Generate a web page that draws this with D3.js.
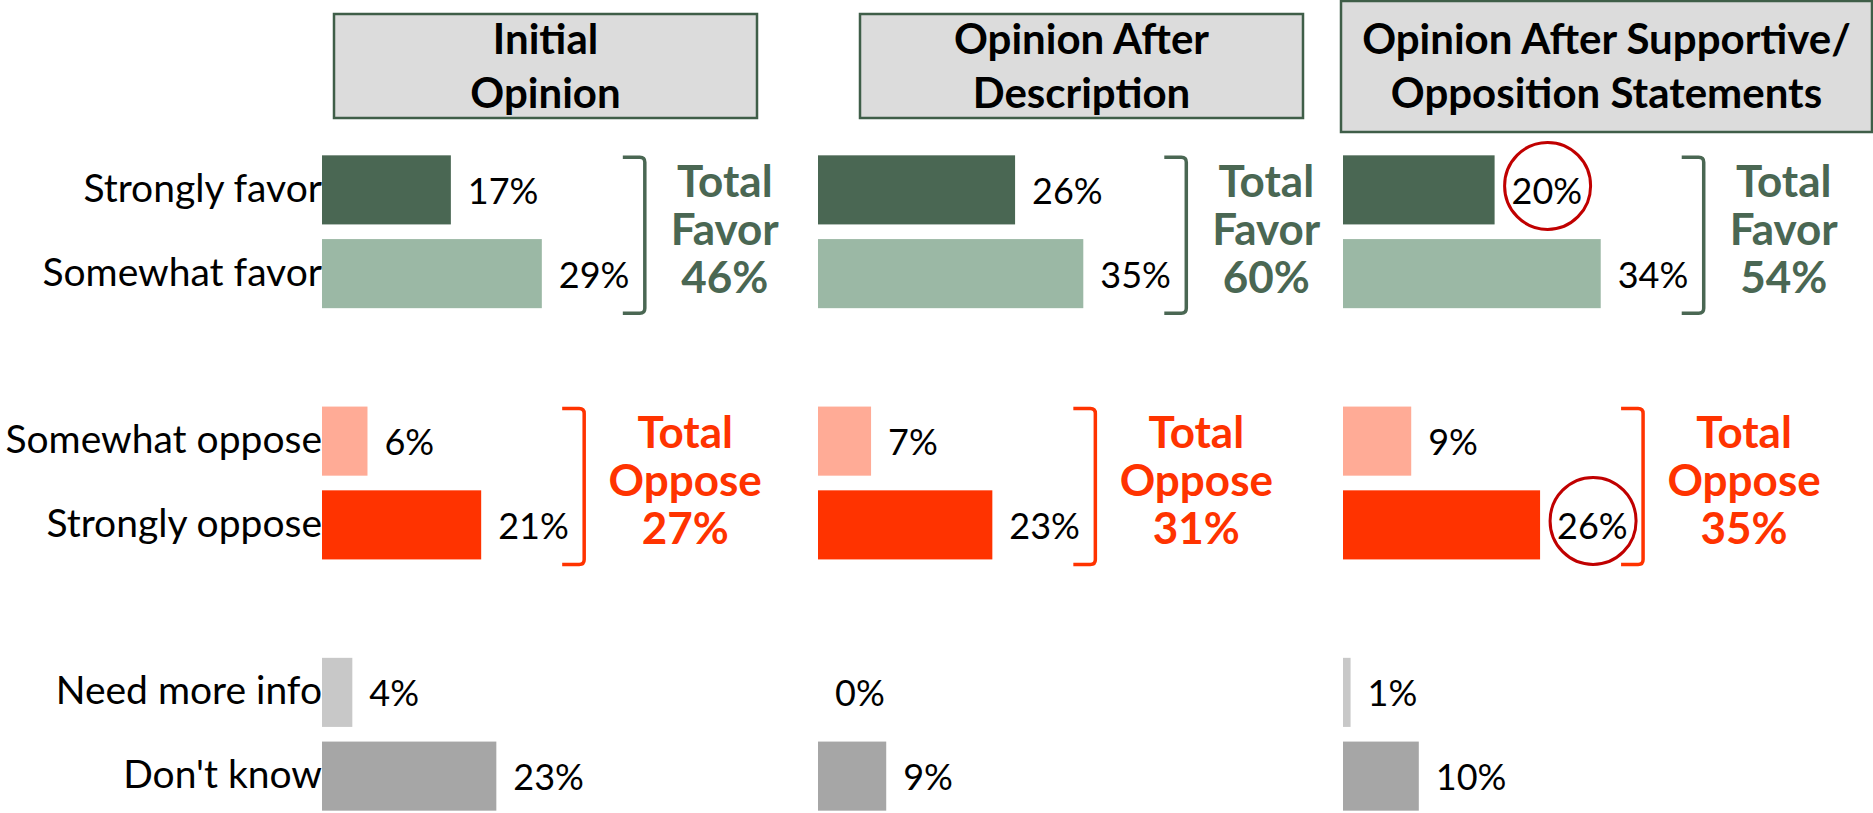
<!DOCTYPE html>
<html>
<head>
<meta charset="utf-8">
<script src="https://cdn.jsdelivr.net/npm/d3@7"></script>
<style>
  body { margin: 0; background: #fff; }
  svg { display: block; font-family: Lato, "Open Sans", sans-serif; }
</style>
</head>
<body>
<div id="d3-container"></div>
<script>
/**
 * DATA
 * */
const headerLines = [
  ["Initial", "Opinion"],
  ["Opinion After", "Description"],
  ["Opinion After Supportive/", "Opposition Statements"]
];
const categories = ["Strongly favor", "Somewhat favor", "Somewhat oppose", "Strongly oppose", "Need more info", "Don't know"];
const initialValues = [17, 29, 6, 21, 4, 23];
const descriptionValues = [26, 35, 7, 23, 0, 9];
const statementValues = [20, 34, 9, 26, 1, 10];
const totalFavor = [46, 60, 54];
const totalOppose = [27, 31, 35];
// labels circled in red, per panel
const circled = [[], [], ["Strongly favor", "Strongly oppose"]];

/**
 * LAYOUT
 * */
const width = 1873, height = 813;
const panelX = [322, 818, 1343];
const headerBox = [
  { x: 334, y: 14, w: 423, h: 104 },
  { x: 860, y: 14, w: 443, h: 104 },
  { x: 1341, y: 1, w: 531, h: 131 }
];
const barColors = ["#4a6753", "#9bb8a5", "#ffab96", "#ff3300", "#c8c8c8", "#a6a6a6"];
const green = "#4a6753", orange = "#ff3300";
const valueGap = 17, labelW = 71, bracketGap = 15;

const series = [initialValues, descriptionValues, statementValues];

const svg = d3.select("#d3-container")
  .append("svg")
  .attr("width", width)
  .attr("height", height)
  .attr("viewBox", `0 0 ${width} ${height}`);

// rows, with two empty slots separating the groups
const rowKeys = [categories[0], categories[1], "gap1", categories[2], categories[3], "gap2", categories[4], categories[5]];
const y = d3.scaleBand()
  .domain(rowKeys)
  .range([148, 818])
  .paddingInner(0.175)
  .paddingOuter(0.0875);

const x = d3.scaleLinear().domain([0, 100]).range([0, 758]);
const color = d3.scaleOrdinal().domain(categories).range(barColors);

// header boxes
const headers = svg.selectAll("g.header")
  .data(headerLines)
  .join("g")
  .attr("class", "header");
headers.append("rect")
  .attr("x", (d, i) => headerBox[i].x)
  .attr("y", (d, i) => headerBox[i].y)
  .attr("width", (d, i) => headerBox[i].w)
  .attr("height", (d, i) => headerBox[i].h)
  .attr("fill", "#dcdcdc")
  .attr("stroke", "#3f5e48")
  .attr("stroke-width", 2.5);
headers.each(function(lines, i) {
  d3.select(this).selectAll("text")
    .data(lines)
    .join("text")
    .attr("x", headerBox[i].x + headerBox[i].w / 2)
    .attr("y", (d, j) => 54 + j * 54)
    .attr("text-anchor", "middle")
    .attr("font-size", 42)
    .attr("font-weight", "bold")
    .attr("fill", "#000")
    .text(d => d);
});

// category labels on the left
svg.selectAll("text.cat")
  .data(categories)
  .join("text")
  .attr("class", "cat")
  .attr("x", panelX[0])
  .attr("y", d => y(d) + y.bandwidth() / 2 + 12)
  .attr("text-anchor", "end")
  .attr("font-size", 39)
  .attr("fill", "#000")
  .text(d => d);

// panels
series.forEach((values, p) => {
  const g = svg.append("g").attr("transform", `translate(${panelX[p]},0)`);
  const rows = categories.map((c, i) => ({ cat: c, value: values[i] }));

  g.selectAll("rect")
    .data(rows)
    .join("rect")
    .attr("x", 0)
    .attr("y", d => y(d.cat))
    .attr("width", d => x(d.value))
    .attr("height", y.bandwidth())
    .attr("fill", d => color(d.cat));

  g.selectAll("text.val")
    .data(rows)
    .join("text")
    .attr("class", "val")
    .attr("x", d => x(d.value) + valueGap)
    .attr("y", d => y(d.cat) + y.bandwidth() / 2 + 14)
    .attr("font-size", 36)
    .attr("fill", "#000")
    .text(d => d.value + "%");

  // red circles round highlighted labels
  g.selectAll("ellipse")
    .data(rows.filter(d => circled[p].includes(d.cat)))
    .join("ellipse")
    .attr("cx", d => x(d.value) + valueGap + 36)
    .attr("cy", d => y(d.cat) + y.bandwidth() / 2 - 4)
    .attr("rx", 43)
    .attr("ry", 43.5)
    .attr("fill", "none")
    .attr("stroke", "#c00000")
    .attr("stroke-width", 3);

  // brackets and totals
  const groups = [
    { cats: [categories[0], categories[1]], total: totalFavor[p], word: "Favor", col: green, shift: 80 },
    { cats: [categories[2], categories[3]], total: totalOppose[p], word: "Oppose", col: orange, shift: 101 }
  ];
  groups.forEach(grp => {
    const maxV = d3.max(grp.cats, c => values[categories.indexOf(c)]);
    const bx = x(maxV) + valueGap + labelW + bracketGap;
    const top = y(grp.cats[0]) + 2;
    const bottom = y(grp.cats[1]) + y.bandwidth() + 5;
    const path = d3.path();
    path.moveTo(bx - 22, top);
    path.lineTo(bx - 5, top);
    path.quadraticCurveTo(bx, top, bx, top + 5);
    path.lineTo(bx, bottom - 5);
    path.quadraticCurveTo(bx, bottom, bx - 5, bottom);
    path.lineTo(bx - 22, bottom);
    g.append("path")
      .attr("d", path.toString())
      .attr("fill", "none")
      .attr("stroke", grp.col)
      .attr("stroke-width", 3.5);

    const mid = (y(grp.cats[0]) + y(grp.cats[1]) + y.bandwidth()) / 2 + 13;
    g.selectAll(null)
      .data(["Total", grp.word, grp.total + "%"])
      .join("text")
      .attr("x", bx + grp.shift)
      .attr("y", (d, j) => mid + (j - 1) * 48)
      .attr("text-anchor", "middle")
      .attr("font-size", 44)
      .attr("font-weight", "bold")
      .attr("fill", grp.col)
      .text(d => d);
  });
});
</script>
</body>
</html>
